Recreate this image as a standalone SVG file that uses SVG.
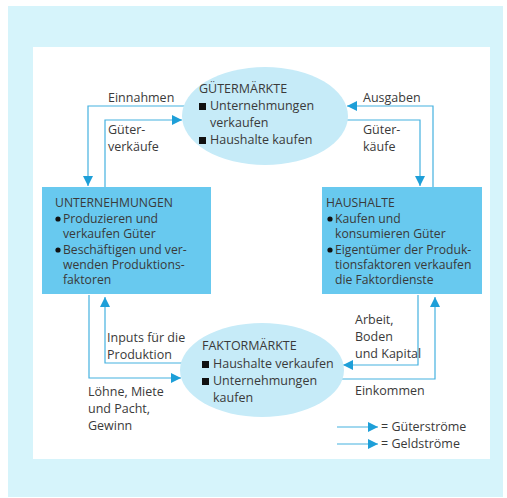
<svg xmlns="http://www.w3.org/2000/svg" width="507" height="498" viewBox="0 0 507 498">
<style>
text{font-family:"Open Sans","Noto Sans",sans-serif;font-size:12.5px;fill:#3a3a3a}
.bt{font-size:12.2px}
.box{fill:#68c9ef}
.ell{fill:#c6ebf8}
.ln{fill:none;stroke:#45b1e0;stroke-width:1.2}
</style>
<defs>
<marker id="ah" markerUnits="userSpaceOnUse" markerWidth="12" markerHeight="10" refX="10" refY="5" orient="auto">
<path d="M0,0 L10,5 L0,10 Z" fill="#1e9fd8"/>
</marker>
</defs>
<rect x="8" y="6" width="495" height="491" fill="#d6f4fb"/>
<rect x="33" y="47" width="457" height="412" fill="#ffffff"/>
<g id="connectors">
<path class="ln" d="M186,106 H88 V186" marker-end="url(#ah)"/>
<path class="ln" d="M105,187 V120 H182" marker-end="url(#ah)"/>
<path class="ln" d="M433,187 V106 H347" marker-end="url(#ah)"/>
<path class="ln" d="M347,120 H420 V186" marker-end="url(#ah)"/>
<path class="ln" d="M182,363 H105 V297" marker-end="url(#ah)"/>
<path class="ln" d="M89,295 V378 H181" marker-end="url(#ah)"/>
<path class="ln" d="M418,295 V365 H343" marker-end="url(#ah)"/>
<path class="ln" d="M342,379 H435 V297" marker-end="url(#ah)"/>
<path class="ln" d="M337,427 H378" marker-end="url(#ah)"/>
<path class="ln" d="M337,444 H378" marker-end="url(#ah)"/>
</g>
<g id="labels">
<text x="108" y="102">Einnahmen</text>
<text x="108" y="134">Güter-</text>
<text x="108" y="151">verkäufe</text>
<text x="363" y="102">Ausgaben</text>
<text x="363" y="134">Güter-</text>
<text x="363" y="151">käufe</text>
<text x="107" y="342">Inputs für die</text>
<text x="107" y="359">Produktion</text>
<text x="88" y="396">Löhne, Miete</text>
<text x="88" y="413">und Pacht,</text>
<text x="88" y="430">Gewinn</text>
<text x="355" y="324">Arbeit,</text>
<text x="355" y="341">Boden</text>
<text x="355" y="358">und Kapital</text>
<text x="355" y="395">Einkommen</text>
<text x="381" y="431">= Güterströme</text>
<text x="381" y="448">= Geldströme</text>
</g>
<g id="guetermaerkte">
<ellipse class="ell" cx="265" cy="116" rx="83" ry="49"/>
<text x="199" y="93">GÜTERMÄRKTE</text>
<rect x="199" y="103" width="7" height="7" fill="#111"/>
<text x="210" y="110">Unternehmungen</text>
<text x="210" y="127">verkaufen</text>
<rect x="199" y="137" width="7" height="7" fill="#111"/>
<text x="210" y="144">Haushalte kaufen</text>
</g>
<g id="unternehmungen">
<rect class="box" x="42" y="187" width="169" height="107"/>
<text class="bt" x="55" y="207">UNTERNEHMUNGEN</text>
<circle cx="58" cy="219" r="2.6" fill="#111"/>
<text class="bt" x="63" y="223">Produzieren und</text>
<text class="bt" x="63" y="238">verkaufen Güter</text>
<circle cx="58" cy="250" r="2.6" fill="#111"/>
<text class="bt" x="63" y="254">Beschäftigen und ver-</text>
<text class="bt" x="63" y="269">wenden Produktions-</text>
<text class="bt" x="63" y="284">faktoren</text>
</g>
<g id="haushalte">
<rect class="box" x="322" y="187" width="160" height="107"/>
<text class="bt" x="326" y="207">HAUSHALTE</text>
<circle cx="330" cy="219" r="2.6" fill="#111"/>
<text class="bt" x="335" y="223">Kaufen und</text>
<text class="bt" x="335" y="238">konsumieren Güter</text>
<circle cx="330" cy="250" r="2.6" fill="#111"/>
<text class="bt" x="335" y="254">Eigentümer der Produk-</text>
<text class="bt" x="335" y="269">tionsfaktoren verkaufen</text>
<text class="bt" x="335" y="284">die Faktordienste</text>
</g>
<g id="faktormaerkte">
<ellipse class="ell" cx="262" cy="370" rx="82" ry="47"/>
<text x="202" y="350">FAKTORMÄRKTE</text>
<rect x="202" y="361" width="7" height="7" fill="#111"/>
<text x="213" y="368">Haushalte verkaufen</text>
<rect x="202" y="378" width="7" height="7" fill="#111"/>
<text x="213" y="385">Unternehmungen</text>
<text x="213" y="402">kaufen</text>
</g>
</svg>
